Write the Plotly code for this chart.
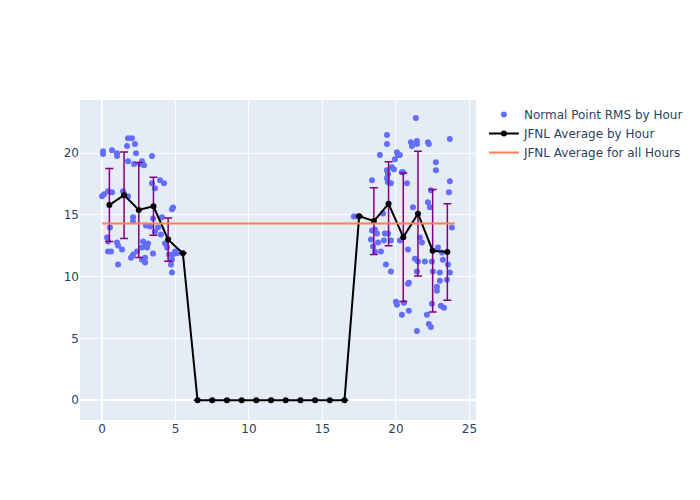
import plotly.graph_objects as go

# Normal point RMS values, by fractional hour of day
rms_hour = [
    0.07, 0.07, 0.14, 0.0, 0.34, 0.41, 0.41, 0.61, 0.41, 0.68, 0.54, 0.68,
    1.02, 1.02, 1.02, 1.09, 1.09, 1.36, 1.43, 1.5, 1.77, 2.04, 1.7, 1.77, 1.77,
    1.97, 2.11, 2.11, 2.11, 2.24, 2.31, 2.18, 2.38, 2.59, 2.72, 2.72, 2.72, 2.79,
    2.93, 2.93, 2.99, 2.99, 2.86, 3.4, 3.4, 3.6, 3.95, 4.22,
    4.83, 4.76, 3.47, 4.08, 3.81, 3.6, 3.27, 3.13, 3.06, 3.47, 4.01, 4.29, 4.42,
    4.56, 4.76, 4.69, 4.76, 4.83, 4.97, 5.1,
    17.14, 17.41,
    18.37, 18.91, 18.57, 18.37, 18.71, 18.3, 18.78, 18.44, 18.57, 18.98,
    19.39, 19.39, 19.12, 20.07, 20.14, 19.93, 19.73, 19.86, 19.39, 19.46, 19.39,
    19.46, 19.66, 19.25, 19.46, 19.18, 19.66, 19.32, 19.66,
    20.41, 20.27, 20.27, 20.48, 20.75, 20.82, 20.88, 20.82, 20.0, 20.07, 20.54,
    20.41, 20.88,
    21.36, 21.02, 21.09, 21.43, 21.43, 21.16, 21.63, 21.77, 21.29, 21.5, 21.43,
    21.43,
    22.18, 22.24, 22.72, 22.72, 22.38, 22.31, 22.18, 21.97, 22.45, 22.86, 22.52,
    22.79, 22.79, 22.45, 22.11, 22.24, 22.38,
    23.67, 23.67, 23.61, 23.81, 23.13, 23.2, 23.54, 22.99, 23.67, 22.99, 23.47,
    23.06, 23.27,
]
rms_value = [
    20.16, 19.92, 16.67, 16.5, 13.17, 12.85, 12.03, 12.03, 16.91, 16.83, 13.98, 20.24,
    20.0, 19.76, 12.76, 12.52, 10.98, 12.2, 16.91, 16.67, 21.2, 21.2, 20.57, 19.35, 16.5,
    11.54, 11.79, 14.8, 14.47, 20.73, 20.0, 19.11, 12.03, 19.11, 19.35, 12.36, 11.38, 12.85,
    11.14, 11.54, 14.15, 12.6, 19.02, 19.76, 17.56, 17.15, 17.8, 17.56,
    15.6, 15.45, 14.7, 14.8, 13.98, 13.66, 14.07, 12.68, 12.36, 11.87, 13.41, 12.68, 12.36,
    11.79, 11.38, 10.98, 10.33, 11.79, 12.03, 11.9,
    14.88, 14.88,
    17.8, 19.84, 13.82, 13.74, 13.5, 13.01, 12.76, 12.44, 12.03, 12.03,
    21.46, 20.73, 15.12, 20.08, 19.84, 19.51, 18.86, 18.7, 18.62, 18.29, 17.97,
    17.64, 17.56, 13.5, 13.5, 12.93, 12.93, 10.98, 10.41,
    18.46, 12.93, 19.84, 18.46, 17.56, 12.2, 9.51, 9.43, 7.97, 7.72, 7.89,
    6.91, 7.24,
    22.85, 20.89, 20.57, 20.98, 20.73, 15.61, 13.17, 12.76, 11.46, 11.22, 10.41,
    5.61,
    20.89, 20.73, 19.27, 18.62, 16.99, 15.61, 16.02, 11.22, 11.22, 12.36, 10.41,
    9.19, 8.86, 7.8, 6.91, 6.18, 5.93,
    21.14, 17.72, 16.83, 13.98, 11.95, 11.38, 10.98, 10.33, 10.33, 9.67, 9.76,
    7.64, 7.48,
]

# Hourly averages and standard deviations
avg_hour = [h + 0.5 for h in range(24)]
avg_value = [15.8, 16.6, 15.4, 15.7, 13.0, 11.9, 0, 0, 0, 0, 0, 0,
             0, 0, 0, 0, 0, 14.9, 14.5, 15.9, 13.2, 15.1, 12.1, 12.0]
avg_std = [2.95, 3.5, 3.85, 2.35, 1.75, 0, 0, 0, 0, 0, 0, 0,
           0, 0, 0, 0, 0, 0, 2.7, 3.4, 5.2, 5.05, 4.95, 3.9]

overall_hours = [0, 24]
overall_avg = 14.3

fig = go.Figure()

fig.add_trace(go.Scatter(
    x=rms_hour, y=rms_value,
    mode='markers',
    marker=dict(color='#636efa', size=6),
    name='Normal Point RMS by Hour'
))

fig.add_trace(go.Scatter(
    x=avg_hour, y=avg_value,
    mode='lines+markers',
    line=dict(color='black', width=2),
    marker=dict(color='black', size=6),
    error_y=dict(type='data', array=avg_std, visible=True, color='purple', thickness=1.5, width=4),
    name='JFNL Average by Hour'
))

fig.add_trace(go.Scatter(
    x=overall_hours, y=[overall_avg] * len(overall_hours),
    mode='lines',
    line=dict(color='#ff7f50', width=2),
    name='JFNL Average for all Hours'
))

fig.update_layout(
    width=700,
    height=500,
    template='plotly',
    font=dict(family='DejaVu Sans'),
    xaxis=dict(range=[-1.5, 25.45]),
    yaxis=dict(range=[-1.6, 24.3]),
)

# put the figure at the top-left corner of the page, no modebar
fig.write_html("out.html", config={'displayModeBar': False},
               post_script="document.body.style.margin='0';")
